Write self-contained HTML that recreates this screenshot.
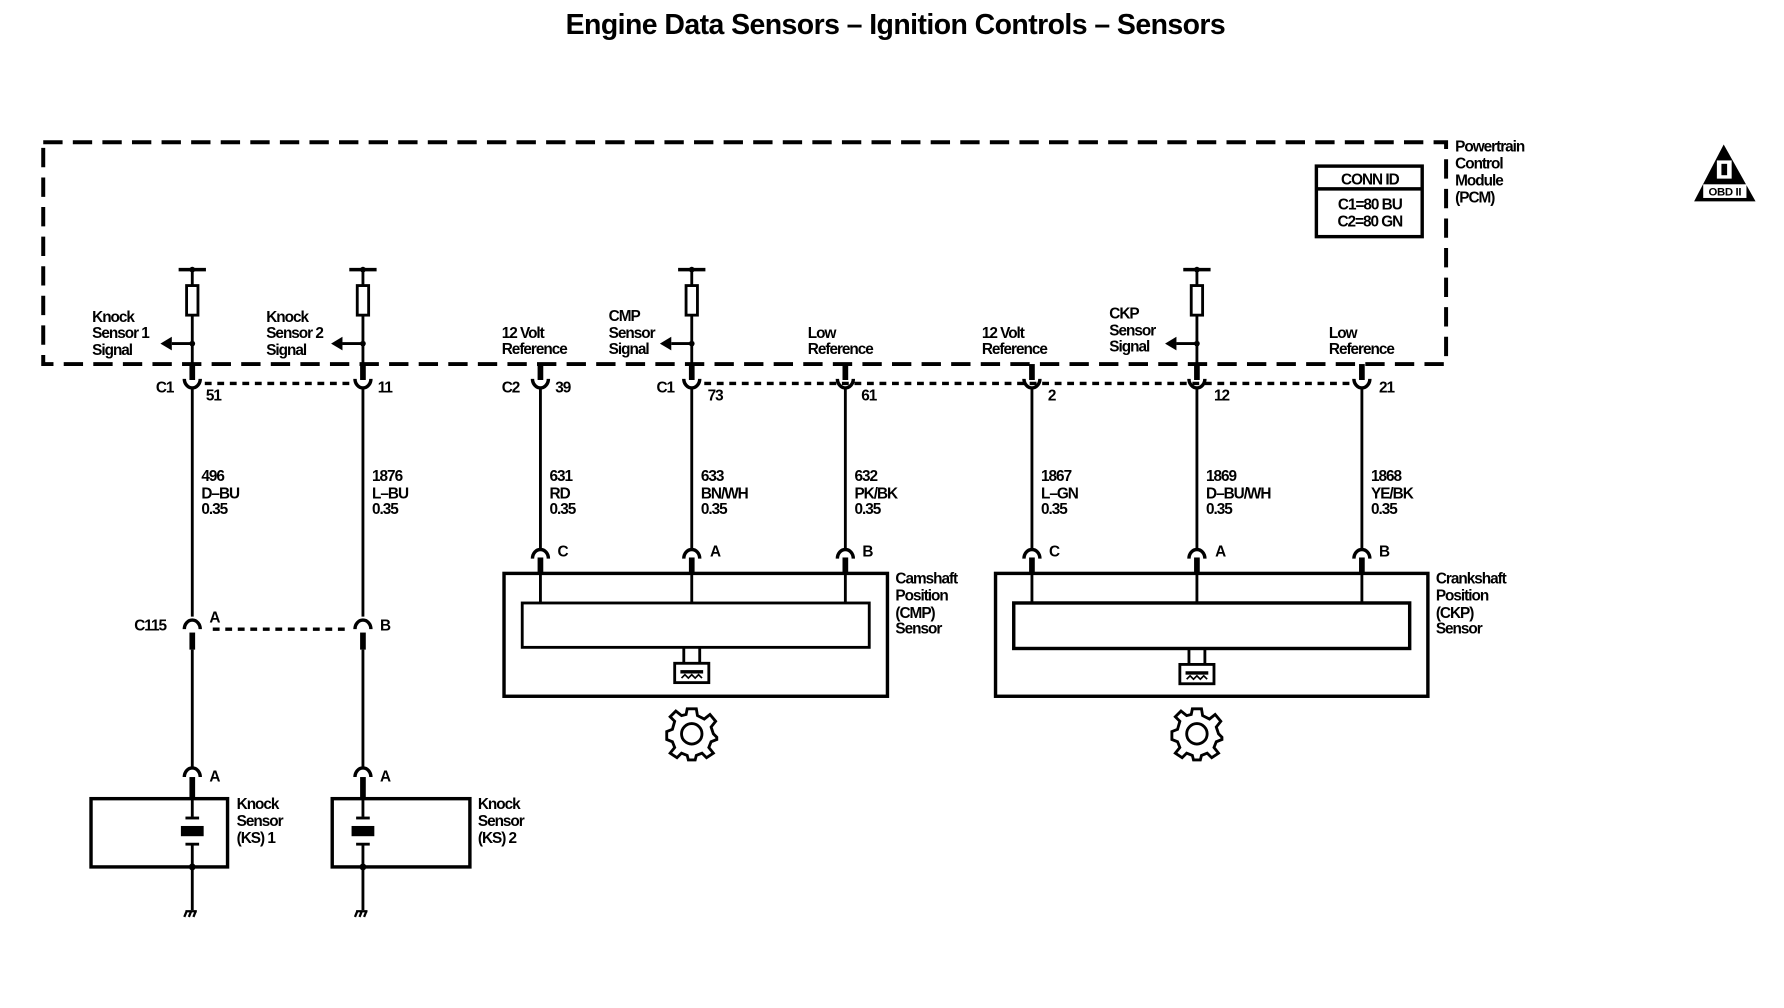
<!DOCTYPE html>
<html><head><meta charset="utf-8"><style>
html,body{margin:0;padding:0;background:#fff;}
svg{display:block;}
text{font-family:"Liberation Sans",Arial,sans-serif;font-size:13.5px;fill:#000;letter-spacing:-0.9px;font-weight:bold;}
</style></head><body>
<svg width="1784" height="1008" viewBox="0 0 1568 886" preserveAspectRatio="none" xmlns="http://www.w3.org/2000/svg">
<defs>
<g id="pull">
  <line x1="-12" y1="237" x2="12" y2="237" stroke="#000" stroke-width="3"/>
  <circle cx="0" cy="237" r="2.5"/>
  <rect x="-5" y="251" width="10" height="26" fill="#fff" stroke="#000" stroke-width="2.5"/>
  <line x1="0" y1="237" x2="0" y2="251" stroke="#000" stroke-width="2.5"/>
  <line x1="0" y1="277" x2="0" y2="320" stroke="#000" stroke-width="2.5"/>
  <circle cx="0" cy="302" r="2.5"/>
  <line x1="0" y1="302" x2="-18" y2="302" stroke="#000" stroke-width="2.5"/>
  <polygon points="-28,302 -18,296 -18,308"/>
</g>
<g id="cup">
  <line x1="0" y1="320" x2="0" y2="334" stroke="#000" stroke-width="5"/>
  <path d="M-7,333 A7,8 0 0 0 7,333" fill="none" stroke="#000" stroke-width="3"/>
  <line x1="0" y1="341" x2="0" y2="345" stroke="#000" stroke-width="2.5"/>
</g>
<g id="cap">
  <path d="M-7,491 A7,8 0 0 1 7,491" fill="none" stroke="#000" stroke-width="3"/>
  <line x1="0" y1="490" x2="0" y2="505" stroke="#000" stroke-width="5"/>
</g>
<g id="gear" fill="none" stroke="#000" stroke-width="2.5">
  <circle cx="0" cy="0" r="9"/>
  <path d="M-4,-22 L4,-22 L5,-16 L11,-13 L16,-17 L21,-11 L17,-6 L19,0 L22,3 L22,5 L17,7 L15,12 L19,17 L13,21 L9,17 L4,19 L3,23 L-3,23 L-4,19 L-9,17 L-13,21 L-19,17 L-15,12 L-17,7 L-22,5 L-22,-2 L-17,-4 L-15,-11 L-19,-15 L-14,-20 L-9,-16 L-5,-17 Z"/>
</g>
<g id="ico">
  <line x1="-7" y1="569" x2="-7" y2="583" stroke="#000" stroke-width="2.5"/>
  <line x1="7" y1="569" x2="7" y2="583" stroke="#000" stroke-width="2.5"/>
  <rect x="-15" y="583" width="30" height="17" fill="#fff" stroke="#000" stroke-width="2.5"/>
  <rect x="-10" y="589" width="20" height="3"/>
  <path d="M-9,596 l3,-3 l3,3 l3,-3 l3,3 l3,-3 l3,3" fill="none" stroke="#000" stroke-width="1.5"/>
</g>
<g id="ks">
  <path d="M-7,683 A7,8 0 0 1 7,683" fill="none" stroke="#000" stroke-width="3"/>
  <line x1="0" y1="683" x2="0" y2="703" stroke="#000" stroke-width="5"/>
  <line x1="0" y1="703" x2="0" y2="718" stroke="#000" stroke-width="2.5"/>
  <line x1="-6" y1="719" x2="6" y2="719" stroke="#000" stroke-width="2.5"/>
  <rect x="-10" y="726" width="20" height="9"/>
  <line x1="-6" y1="742" x2="6" y2="742" stroke="#000" stroke-width="2.5"/>
  <line x1="0" y1="742" x2="0" y2="800" stroke="#000" stroke-width="2.5"/>
  <circle cx="0" cy="762" r="3"/>
  <path d="M-7,806 l2,-5 M-3,806 l2,-5 M1,806 l2,-5 M-6,801 h10" stroke="#000" stroke-width="2"/>
</g>
</defs>

<text x="787" y="30" text-anchor="middle" style="font-size:25px;letter-spacing:-0.5px">Engine Data Sensors – Ignition Controls – Sensors</text>

<rect x="38" y="125" width="1233" height="195" fill="none" stroke="#000" stroke-width="3.5" stroke-dasharray="17,9"/>
<text x="1279" y="133">Powertrain</text>
<text x="1279" y="148">Control</text>
<text x="1279" y="163">Module</text>
<text x="1279" y="178">(PCM)</text>

<rect x="1157" y="146" width="93" height="62" fill="none" stroke="#000" stroke-width="3"/>
<line x1="1157" y1="166" x2="1250" y2="166" stroke="#000" stroke-width="3"/>
<text x="1204" y="162" text-anchor="middle">CONN ID</text>
<text x="1204" y="184" text-anchor="middle">C1=80 BU</text>
<text x="1204" y="199" text-anchor="middle">C2=80 GN</text>

<polygon points="1515,127 1489,177 1543,177"/>
<rect x="1509" y="141" width="13" height="16" fill="#fff"/>
<rect x="1513" y="144" width="5" height="10"/>
<rect x="1497" y="162" width="38" height="12" fill="#fff"/>
<text x="1516" y="172" text-anchor="middle" style="font-size:10px;letter-spacing:-0.3px">OBD II</text>

<use href="#pull" x="169"/><use href="#pull" x="319"/><use href="#pull" x="608"/><use href="#pull" x="1052"/>

<text x="81" y="283">Knock</text><text x="81" y="297">Sensor 1</text><text x="81" y="312">Signal</text>
<text x="234" y="283">Knock</text><text x="234" y="297">Sensor 2</text><text x="234" y="312">Signal</text>
<text x="441" y="297">12 Volt</text><text x="441" y="311">Reference</text>
<text x="535" y="282">CMP</text><text x="535" y="297">Sensor</text><text x="535" y="311">Signal</text>
<text x="710" y="297">Low</text><text x="710" y="311">Reference</text>
<text x="863" y="297">12 Volt</text><text x="863" y="311">Reference</text>
<text x="975" y="280">CKP</text><text x="975" y="295">Sensor</text><text x="975" y="309">Signal</text>
<text x="1168" y="297">Low</text><text x="1168" y="311">Reference</text>

<g>
<use href="#cup" x="169"/><use href="#cup" x="319"/><use href="#cup" x="475"/><use href="#cup" x="608"/>
<use href="#cup" x="743"/><use href="#cup" x="907"/><use href="#cup" x="1052"/><use href="#cup" x="1197"/>
</g>
<line x1="180" y1="337" x2="308" y2="337" stroke="#000" stroke-width="3" stroke-dasharray="6,5"/>
<line x1="619" y1="337" x2="1186" y2="337" stroke="#000" stroke-width="3" stroke-dasharray="6,5"/>
<text x="137" y="345">C1</text><text x="181" y="352">51</text>
<text x="332" y="345">11</text>
<text x="441" y="345">C2</text><text x="488" y="345">39</text>
<text x="577" y="345">C1</text><text x="622" y="352">73</text>
<text x="757" y="352">61</text><text x="921" y="352">2</text>
<text x="1067" y="352">12</text><text x="1212" y="345">21</text>

<g stroke="#000" stroke-width="2.5">
<line x1="169" y1="345" x2="169" y2="542"/>
<line x1="319" y1="345" x2="319" y2="542"/>
<line x1="475" y1="345" x2="475" y2="484"/>
<line x1="608" y1="345" x2="608" y2="484"/>
<line x1="743" y1="345" x2="743" y2="484"/>
<line x1="907" y1="345" x2="907" y2="484"/>
<line x1="1052" y1="345" x2="1052" y2="484"/>
<line x1="1197" y1="345" x2="1197" y2="484"/>
</g>
<text x="177" y="423">496</text><text x="177" y="438">D–BU</text><text x="177" y="452">0.35</text>
<text x="327" y="423">1876</text><text x="327" y="438">L–BU</text><text x="327" y="452">0.35</text>
<text x="483" y="423">631</text><text x="483" y="438">RD</text><text x="483" y="452">0.35</text>
<text x="616" y="423">633</text><text x="616" y="438">BN/WH</text><text x="616" y="452">0.35</text>
<text x="751" y="423">632</text><text x="751" y="438">PK/BK</text><text x="751" y="452">0.35</text>
<text x="915" y="423">1867</text><text x="915" y="438">L–GN</text><text x="915" y="452">0.35</text>
<text x="1060" y="423">1869</text><text x="1060" y="438">D–BU/WH</text><text x="1060" y="452">0.35</text>
<text x="1205" y="423">1868</text><text x="1205" y="438">YE/BK</text><text x="1205" y="452">0.35</text>

<use href="#cap" x="475"/><use href="#cap" x="608"/><use href="#cap" x="743"/>
<use href="#cap" x="907"/><use href="#cap" x="1052"/><use href="#cap" x="1197"/>
<text x="490" y="489">C</text><text x="624" y="489">A</text><text x="758" y="489">B</text>
<text x="922" y="489">C</text><text x="1068" y="489">A</text><text x="1212" y="489">B</text>

<rect x="443" y="504" width="337" height="108" fill="none" stroke="#000" stroke-width="3"/>
<rect x="459" y="530" width="305" height="39" fill="none" stroke="#000" stroke-width="2.5"/>
<g stroke="#000" stroke-width="2.5"><line x1="475" y1="505" x2="475" y2="530"/><line x1="608" y1="505" x2="608" y2="530"/><line x1="743" y1="505" x2="743" y2="530"/></g>
<use href="#ico" x="608"/>
<use href="#gear" transform="translate(608,645)"/>
<text x="787" y="513">Camshaft</text><text x="787" y="528">Position</text><text x="787" y="543">(CMP)</text><text x="787" y="557">Sensor</text>

<rect x="875" y="504" width="380" height="108" fill="none" stroke="#000" stroke-width="3"/>
<rect x="891" y="530" width="348" height="40" fill="none" stroke="#000" stroke-width="3"/>
<g stroke="#000" stroke-width="2.5"><line x1="907" y1="505" x2="907" y2="530"/><line x1="1052" y1="505" x2="1052" y2="530"/><line x1="1197" y1="505" x2="1197" y2="530"/></g>
<use href="#ico" x="1052" y="1"/>
<use href="#gear" transform="translate(1052,645)"/>
<text x="1262" y="513">Crankshaft</text><text x="1262" y="528">Position</text><text x="1262" y="543">(CKP)</text><text x="1262" y="557">Sensor</text>

<g stroke="#000" fill="none">
<path d="M162,553 A7,8 0 0 1 176,553" stroke-width="3"/>
<path d="M312,553 A7,8 0 0 1 326,553" stroke-width="3"/>
<line x1="169" y1="556" x2="169" y2="571" stroke-width="5"/>
<line x1="319" y1="556" x2="319" y2="571" stroke-width="5"/>
<line x1="169" y1="571" x2="169" y2="675" stroke-width="2.5"/>
<line x1="319" y1="571" x2="319" y2="675" stroke-width="2.5"/>
<line x1="187" y1="553" x2="306" y2="553" stroke-width="3" stroke-dasharray="6,5"/>
</g>
<text x="118" y="554">C115</text><text x="184" y="547">A</text><text x="334" y="554">B</text>

<rect x="80" y="702" width="120" height="60" fill="none" stroke="#000" stroke-width="3"/>
<rect x="292" y="702" width="121" height="60" fill="none" stroke="#000" stroke-width="3"/>
<use href="#ks" x="169"/><use href="#ks" x="319"/>
<text x="184" y="687">A</text><text x="334" y="687">A</text>
<text x="208" y="711">Knock</text><text x="208" y="726">Sensor</text><text x="208" y="741">(KS) 1</text>
<text x="420" y="711">Knock</text><text x="420" y="726">Sensor</text><text x="420" y="741">(KS) 2</text>
</svg>
</body></html>
